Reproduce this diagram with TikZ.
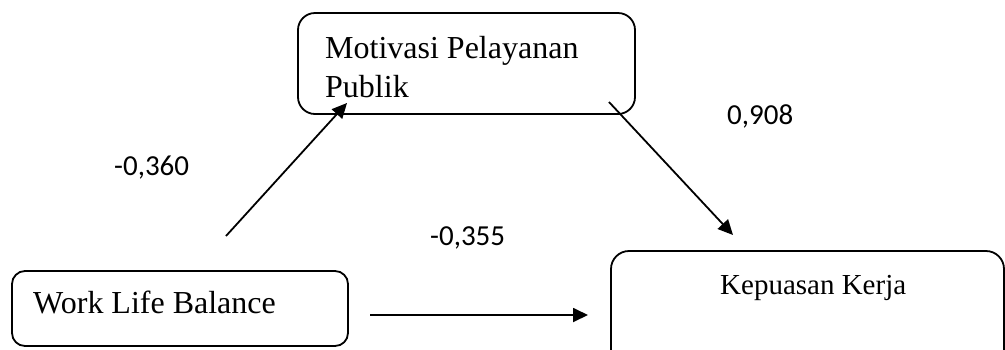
\documentclass[tikz,border=0pt]{standalone}
\usepackage{fontspec}
\setmainfont{Liberation Serif}
\newfontfamily\numfont{Carlito}
\usetikzlibrary{arrows.meta}
\begin{document}
\begin{tikzpicture}[x=1pt,y=-1pt,
  box/.style={draw,line width=1.8pt,inner sep=0pt},
  boxtext/.style={inner sep=0pt,font=\fontsize{32}{39}\selectfont},
  coef/.style={inner sep=0pt,anchor=base west,font=\numfont\fontsize{29}{35}\selectfont},
  link/.style={line width=1.8pt,-{Triangle[length=15pt,width=14pt]}}]
\useasboundingbox (0,0) rectangle (1005,349);
\clip (0,0) rectangle (1005,349);
% boxes
\node[box,rounded corners=17pt,minimum width=337pt,minimum height=101pt] (mpp) at (466.5,63.5) {};
\node[box,rounded corners=13pt,minimum width=336pt,minimum height=75pt] (wlb) at (180,308.5) {};
\node[box,rounded corners=18pt,minimum width=393pt,minimum height=149pt] (kk) at (807.5,325.5) {};
% texts
\node[boxtext,anchor=north west,align=left] (mpptext) at (325,36) {Motivasi Pelayanan\\Publik};
\node[boxtext,anchor=base west] (wlbtext) at (33,313) {Work Life Balance};
\node[boxtext,anchor=base west,font=\fontsize{29}{35}\selectfont] (kktext) at (720,294) {Kepuasan Kerja};
% coefficients
\node[coef] (c1) at (114,175) {-0,360};
\node[coef] (c2) at (727,124) {0,908};
\node[coef] (c3) at (430,245) {-0,355};
% connector ends
\coordinate (a1s) at (226,236);
\coordinate (a1e) at (347,103);
\coordinate (a2s) at (609,102);
\coordinate (a2e) at (733,235);
\coordinate (a3s) at (370,315);
\coordinate (a3e) at (588,315);
\draw[link] (a1s) -- (a1e);
\draw[link] (a2s) -- (a2e);
\draw[link] (a3s) -- (a3e);
\end{tikzpicture}
\end{document}
